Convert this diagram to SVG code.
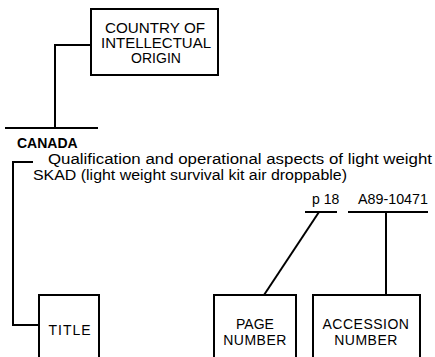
<svg xmlns="http://www.w3.org/2000/svg" width="435" height="357" viewBox="0 0 435 357">
<style>
.box{fill:#fff;stroke:#000;stroke-width:2}
.ln{fill:none;stroke:#000;stroke-width:2}
.bt{font-family:"Liberation Sans",Arial,sans-serif;font-size:14px;fill:#000;text-anchor:middle}
.tx{font-family:"Liberation Sans",Arial,sans-serif;font-size:14px;fill:#000}
</style>
<rect width="435" height="357" fill="#fff"/>
<g id="connectors">
<path class="ln" d="M91,45 H55 V128"/>
<path class="ln" d="M5,128 H98"/>
<path class="ln" d="M33,162 H13 V325 H39"/>
<path class="ln" d="M305,212 H337"/>
<path class="ln" d="M348,212 H428"/>
<path class="ln" d="M319,212 L264,295"/>
<path class="ln" d="M386,212 V295"/>
</g>
<g id="country">
<rect class="box" x="91" y="9" width="127" height="66"/>
<text class="bt" x="155" y="33" textLength="100" lengthAdjust="spacingAndGlyphs">COUNTRY OF</text>
<text class="bt" x="156" y="48" textLength="110" lengthAdjust="spacingAndGlyphs">INTELLECTUAL</text>
<text class="bt" x="156" y="63">ORIGIN</text>
</g>
<g id="canada">
<text class="tx" x="17" y="148" font-weight="bold" font-size="13">CANADA</text>
</g>
<g id="title-text">
<text class="tx" x="48" y="164" font-size="13" textLength="384" lengthAdjust="spacingAndGlyphs">Qualification and operational aspects of light weight</text>
<text class="tx" x="33" y="180" font-size="13" textLength="314" lengthAdjust="spacingAndGlyphs">SKAD (light weight survival kit air droppable)</text>
</g>
<g id="page-value">
<text class="tx" x="312" y="204">p 18</text>
</g>
<g id="accession-value">
<text class="tx" x="358" y="204" textLength="70" lengthAdjust="spacingAndGlyphs">A89-10471</text>
</g>
<g id="title">
<rect class="box" x="39" y="295" width="60" height="70"/>
<text class="bt" x="70" y="335" font-size="12" letter-spacing="1">TITLE</text>
</g>
<g id="page">
<rect class="box" x="214" y="295" width="82" height="70"/>
<text class="bt" x="255" y="329" font-size="13">PAGE</text>
<text class="bt" x="255" y="345" font-size="13" letter-spacing="0.5">NUMBER</text>
</g>
<g id="accession">
<rect class="box" x="313" y="295" width="107" height="70"/>
<text class="bt" x="366" y="329" font-size="13" letter-spacing="0.5">ACCESSION</text>
<text class="bt" x="366" y="345" font-size="13" letter-spacing="0.5">NUMBER</text>
</g>
</svg>
